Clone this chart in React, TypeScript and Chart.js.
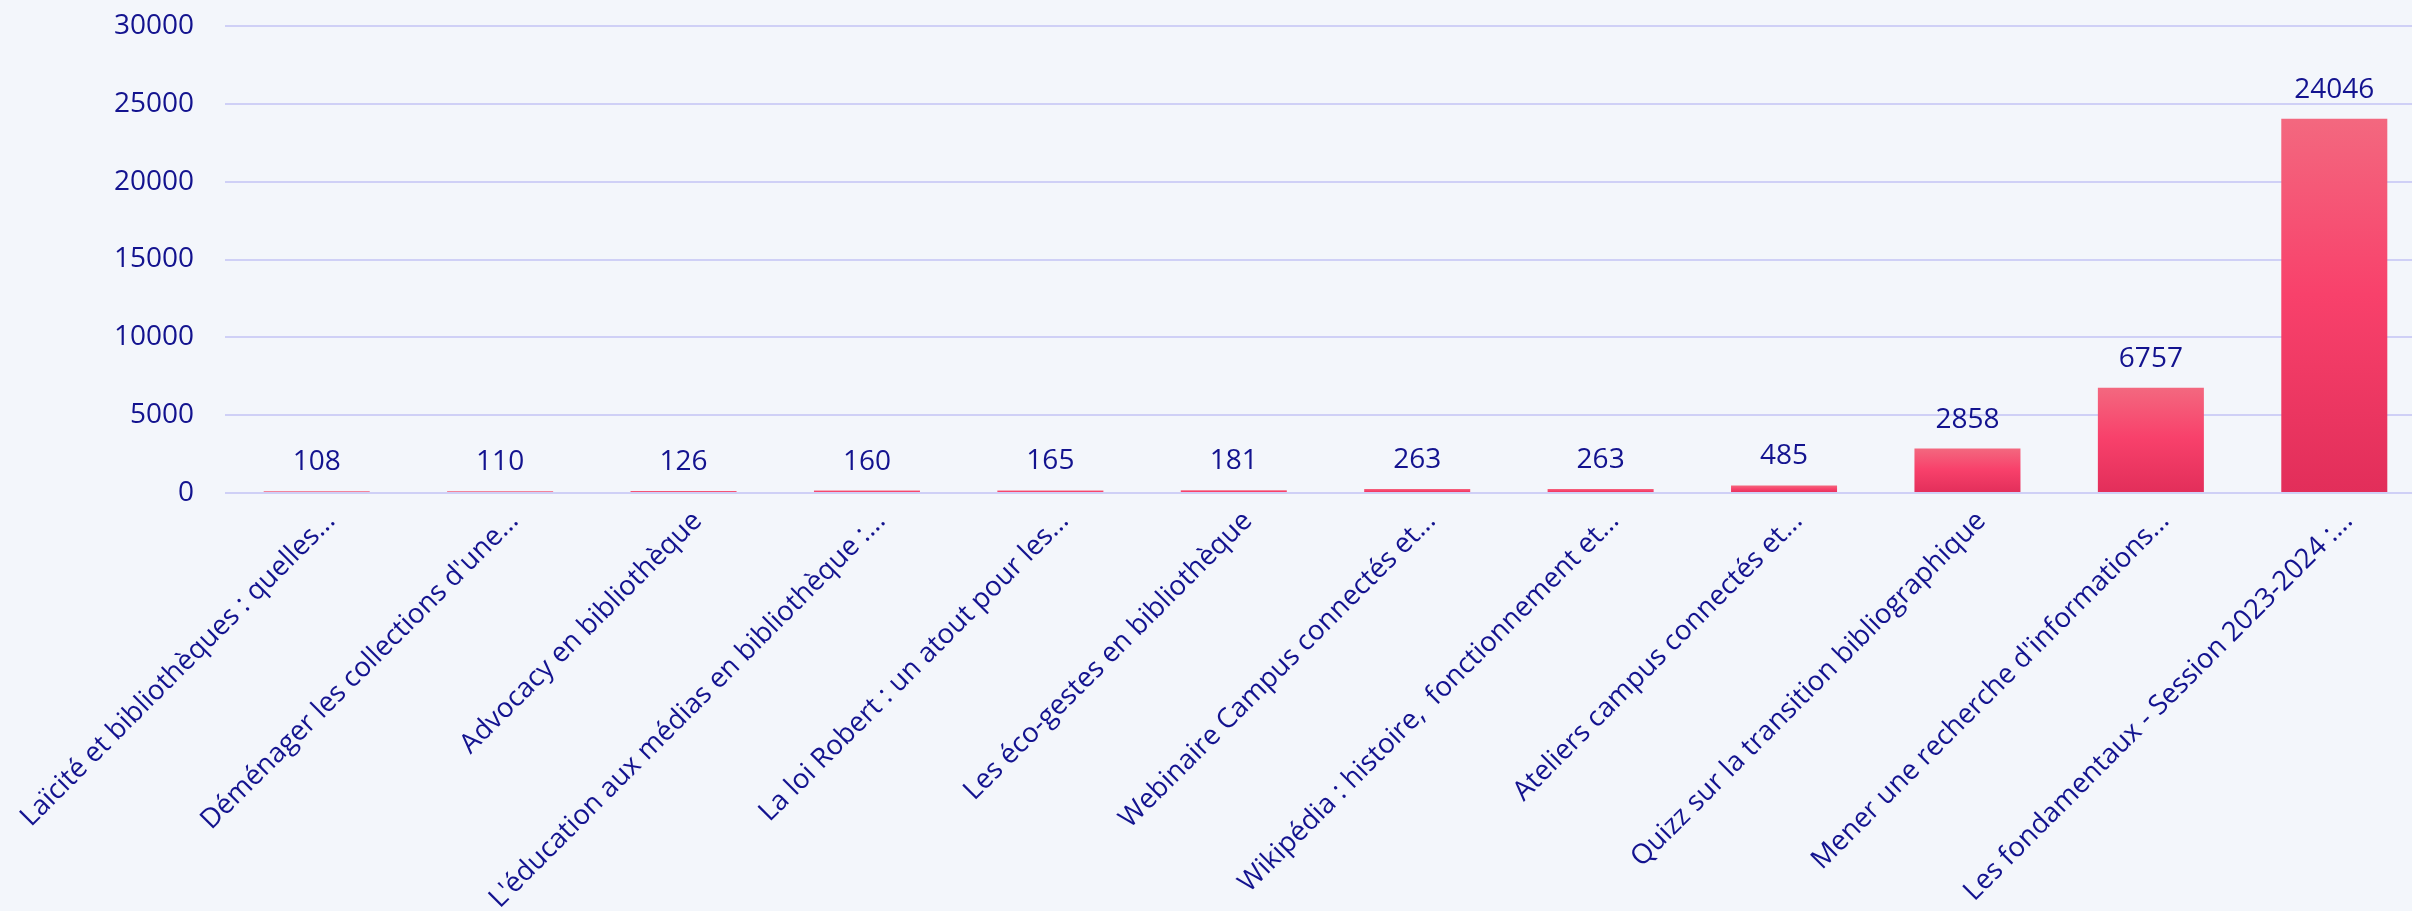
import React, { useEffect, useRef } from "react";
import { Chart, registerables } from "chart.js";

Chart.register(...registerables);

const categories: string[] = [
  "Laïcité et bibliothèques : quelles...",
  "Déménager les collections d'une...",
  "Advocacy en bibliothèque",
  "L'éducation aux médias en bibliothèque :...",
  "La loi Robert : un atout pour les...",
  "Les éco-gestes en bibliothèque",
  "Webinaire Campus connectés et...",
  "Wikipédia : histoire,  fonctionnement et...",
  "Ateliers campus connectés et...",
  "Quizz sur la transition bibliographique",
  "Mener une recherche d'informations...",
  "Les fondamentaux - Session 2023-2024 :...",
];

const values: number[] = [108, 110, 126, 160, 165, 181, 263, 263, 485, 2858, 6757, 24046];

const yTicks: number[] = [0, 5000, 10000, 15000, 20000, 25000, 30000];

const TEXT = "#13138f";
const FONT = "'Open Sans', 'Noto Sans', sans-serif";

const valueLabels = {
  id: "valueLabels",
  afterDatasetsDraw(chart: any) {
    const ctx = chart.ctx;
    const meta = chart.getDatasetMeta(0);
    ctx.save();
    ctx.fillStyle = TEXT;
    ctx.font = `28px ${FONT}`;
    ctx.textAlign = "center";
    ctx.textBaseline = "alphabetic";
    meta.data.forEach((bar: any, i: number) => {
      ctx.fillText(String(values[i]), bar.x, bar.y - 21);
    });
    ctx.restore();
  },
};

export default function App() {
  const ref = useRef<HTMLCanvasElement | null>(null);

  useEffect(() => {
    const canvas = ref.current;
    if (!canvas) return;
    const chart = new Chart(canvas, {
      type: "bar",
      data: {
        labels: categories,
        datasets: [
          {
            data: values,
            barPercentage: 0.578,
            categoryPercentage: 1,
            backgroundColor: (c: any) => {
              const ch = c.chart;
              const ys = ch.scales && ch.scales.y;
              if (!ys || !ch.chartArea || c.raw === undefined) return "#f4406b";
              const top = ys.getPixelForValue(c.raw);
              const bottom = ys.getPixelForValue(0);
              if (!isFinite(top) || !isFinite(bottom) || bottom - top < 0.5) return "#f0506f";
              const g = ch.ctx.createLinearGradient(0, top, 0, bottom);
              g.addColorStop(0, "#f3687f");
              g.addColorStop(0.47, "#f8416b");
              g.addColorStop(1, "#e22e5a");
              return g;
            },
          },
        ],
      },
      options: {
        animation: false,
        responsive: false,
        devicePixelRatio: 1,
        layout: { padding: { top: 26, left: 0, right: 0, bottom: 0 } },
        plugins: {
          legend: { display: false },
          tooltip: { enabled: false },
        },
        scales: {
          x: {
            grid: { display: false, drawTicks: false },
            border: { display: false },
            ticks: {
              color: TEXT,
              font: { family: FONT, size: 27.5 },
              minRotation: 45,
              maxRotation: 45,
              autoSkip: false,
              padding: 12,
              labelOffset: 14,
            },
            afterFit: (s: any) => {
              s.height = 418;
              s.paddingLeft = 0;
              s.paddingRight = 0;
            },
          },
          y: {
            min: 0,
            max: 30000,
            grid: { color: "#cfd0f6", lineWidth: 2, drawTicks: false },
            border: { display: false },
            afterBuildTicks: (s: any) => {
              s.ticks = yTicks.map((v) => ({ value: v }));
            },
            ticks: {
              color: TEXT,
              font: { family: FONT, size: 28 },
              padding: 31,
              callback: (v: any) => String(v),
            },
            afterFit: (s: any) => {
              s.width = 225;
              s.paddingTop = 0;
              s.paddingBottom = 0;
            },
          },
        },
      },
      plugins: [valueLabels],
    });
    return () => chart.destroy();
  }, []);

  return (
    <div
      style={{
        position: "absolute",
        left: 0,
        top: 0,
        width: 2412,
        height: 911,
        overflow: "hidden",
        background: "#f3f6fb",
      }}
    >
      <canvas ref={ref} width={2426} height={911} style={{ width: 2426, height: 911, display: "block" }} />
    </div>
  );
}
